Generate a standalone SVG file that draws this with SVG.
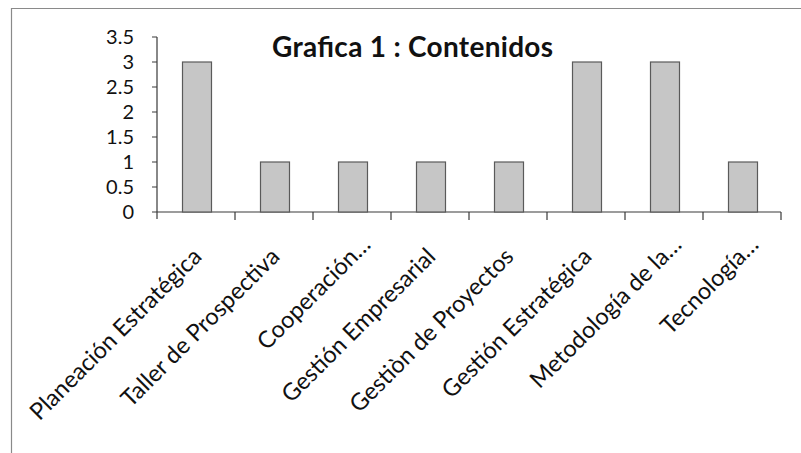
<svg xmlns="http://www.w3.org/2000/svg" width="801" height="453" viewBox="0 0 801 453">
<style>
.frame{fill:none;stroke:#8a8a8a;stroke-width:1.2}
.axis{fill:none;stroke:#3a3a3a;stroke-width:1.2}
.bar{fill:#c6c6c6;stroke:#5a5a5a;stroke-width:1.2}
.ylab{font-family:Lato,"Noto Sans",sans-serif;font-size:20px;fill:#111;text-anchor:end}
.xlab{font-family:Lato,"Noto Sans",sans-serif;font-size:23.5px;fill:#111;text-anchor:end}
.title{font-family:Lato,"Noto Sans",sans-serif;font-size:28px;font-weight:bold;fill:#111}
</style>
<rect width="801" height="453" fill="#fff"/>
<path class="frame" d="M11.5,453 V8.5 H801"/>
<text class="title" x="272" y="57" textLength="281">Grafica 1 : Contenidos</text>
<g id="axes">
<path class="axis" d="M157,37 V219 M152,37 H157 M152,62 H157 M152,87 H157 M152,112 H157 M152,137 H157 M152,162 H157 M152,187 H157 M152,212 H781"/>
<path class="axis" d="M235,212 V220 M313,212 V220 M391,212 V220 M469,212 V220 M547,212 V220 M625,212 V220 M703,212 V220 M781,212 V220"/>
</g>
<g id="ylabels">
<text class="ylab" x="134" y="44">3.5</text>
<text class="ylab" x="134" y="69">3</text>
<text class="ylab" x="134" y="94">2.5</text>
<text class="ylab" x="134" y="119">2</text>
<text class="ylab" x="134" y="144">1.5</text>
<text class="ylab" x="134" y="169">1</text>
<text class="ylab" x="134" y="194">0.5</text>
<text class="ylab" x="134" y="219">0</text>
</g>
<g id="bars">
<rect class="bar" x="182.5" y="62" width="29" height="150"/>
<rect class="bar" x="260.5" y="162" width="29" height="50"/>
<rect class="bar" x="338.5" y="162" width="29" height="50"/>
<rect class="bar" x="416.5" y="162" width="29" height="50"/>
<rect class="bar" x="494.5" y="162" width="29" height="50"/>
<rect class="bar" x="572.5" y="62" width="29" height="150"/>
<rect class="bar" x="650.5" y="62" width="29" height="150"/>
<rect class="bar" x="728.5" y="162" width="29" height="50"/>
</g>
<g id="xlabels">
<text class="xlab" transform="translate(203,258) rotate(-45)">Planeación Estratégica</text>
<text class="xlab" transform="translate(281,258) rotate(-45)">Taller de Prospectiva</text>
<text class="xlab" transform="translate(372,246) rotate(-45)">Cooperación…</text>
<text class="xlab" transform="translate(437,258) rotate(-45)">Gestión Empresarial</text>
<text class="xlab" transform="translate(515,258) rotate(-45)">Gestiòn de Proyectos</text>
<text class="xlab" transform="translate(593,258) rotate(-45)">Gestión Estratégica</text>
<text class="xlab" transform="translate(683,246) rotate(-45)">Metodología de la…</text>
<text class="xlab" transform="translate(760,246) rotate(-45)">Tecnología…</text>
</g>
</svg>
